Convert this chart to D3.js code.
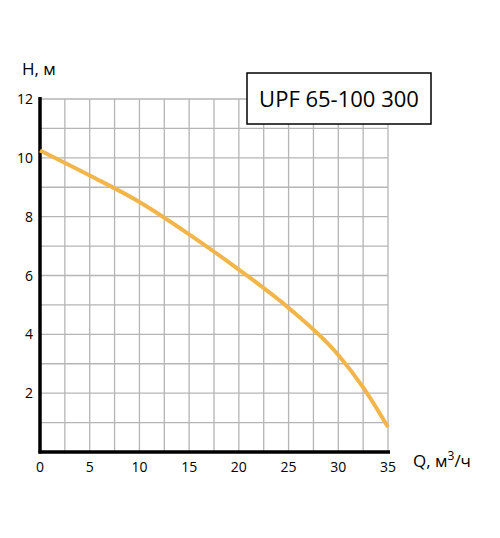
<!DOCTYPE html><html><head><meta charset="utf-8"><script src="https://cdn.jsdelivr.net/npm/d3@7"></script>
<style>body{margin:0;background:#fff}text{font-family:"Open Sans",sans-serif}</style></head><body><svg id="c" width="500" height="538"></svg>
<script>
const qValues=[0,5,10,15,20,25,30,32.5,35];
const hValues=[10.25,9.4,8.5,7.4,6.2,4.9,3.3,2.2,0.85];
const xTicks=[0,5,10,15,20,25,30,35];
const yTicks=[2,4,6,8,10,12];
const title="UPF 65-100 300";
const svg=d3.select("#c");
const x=d3.scaleLinear().domain([0,35]).range([40,388]);
const y=d3.scaleLinear().domain([0,12]).range([452,99]);
const g=svg.append("g");
d3.range(2.5,35.1,2.5).forEach(v=>g.append("line").attr("x1",x(v)).attr("x2",x(v)).attr("y1",y(0)).attr("y2",y(12)).attr("stroke","#b5b5b5").attr("stroke-width",1.3));
d3.range(1,12.1,1).forEach(v=>g.append("line").attr("x1",x(0)).attr("x2",x(35)).attr("y1",y(v)).attr("y2",y(v)).attr("stroke","#b5b5b5").attr("stroke-width",1.3));
svg.append("line").attr("x1",x(0)).attr("x2",x(0)).attr("y1",y(12)-2).attr("y2",y(0)+1.5).attr("stroke","#000").attr("stroke-width",3.5);
svg.append("line").attr("x1",x(0)-1.5).attr("x2",x(35)+2).attr("y1",y(0)).attr("y2",y(0)).attr("stroke","#000").attr("stroke-width",3.5);
xTicks.forEach(v=>svg.append("text").attr("x",x(v)).attr("y",472).attr("text-anchor","middle").attr("font-size",14).text(v));
yTicks.forEach(v=>svg.append("text").attr("x",33).attr("y",y(v)+5).attr("text-anchor","end").attr("font-size",14).text(v));
svg.append("text").attr("x",22).attr("y",75).attr("font-size",17).text("H, м");
svg.append("text").attr("x",413).attr("y",467).attr("font-size",17).html('Q, м<tspan dy="-7" font-size="12">3</tspan><tspan dy="7">/ч</tspan>');
const line=d3.line().x((d,i)=>x(qValues[i])).y(d=>y(d)).curve(d3.curveMonotoneX);
svg.append("path").attr("d",line(hValues)).attr("fill","none").attr("stroke","#f2b54a").attr("stroke-width",4);
svg.append("rect").attr("x",247).attr("y",73).attr("width",184).attr("height",51).attr("fill","#fff").attr("stroke","#000").attr("stroke-width",1.5);
svg.append("text").attr("x",339).attr("y",107).attr("text-anchor","middle").attr("font-size",22).text(title);
</script></body></html>
